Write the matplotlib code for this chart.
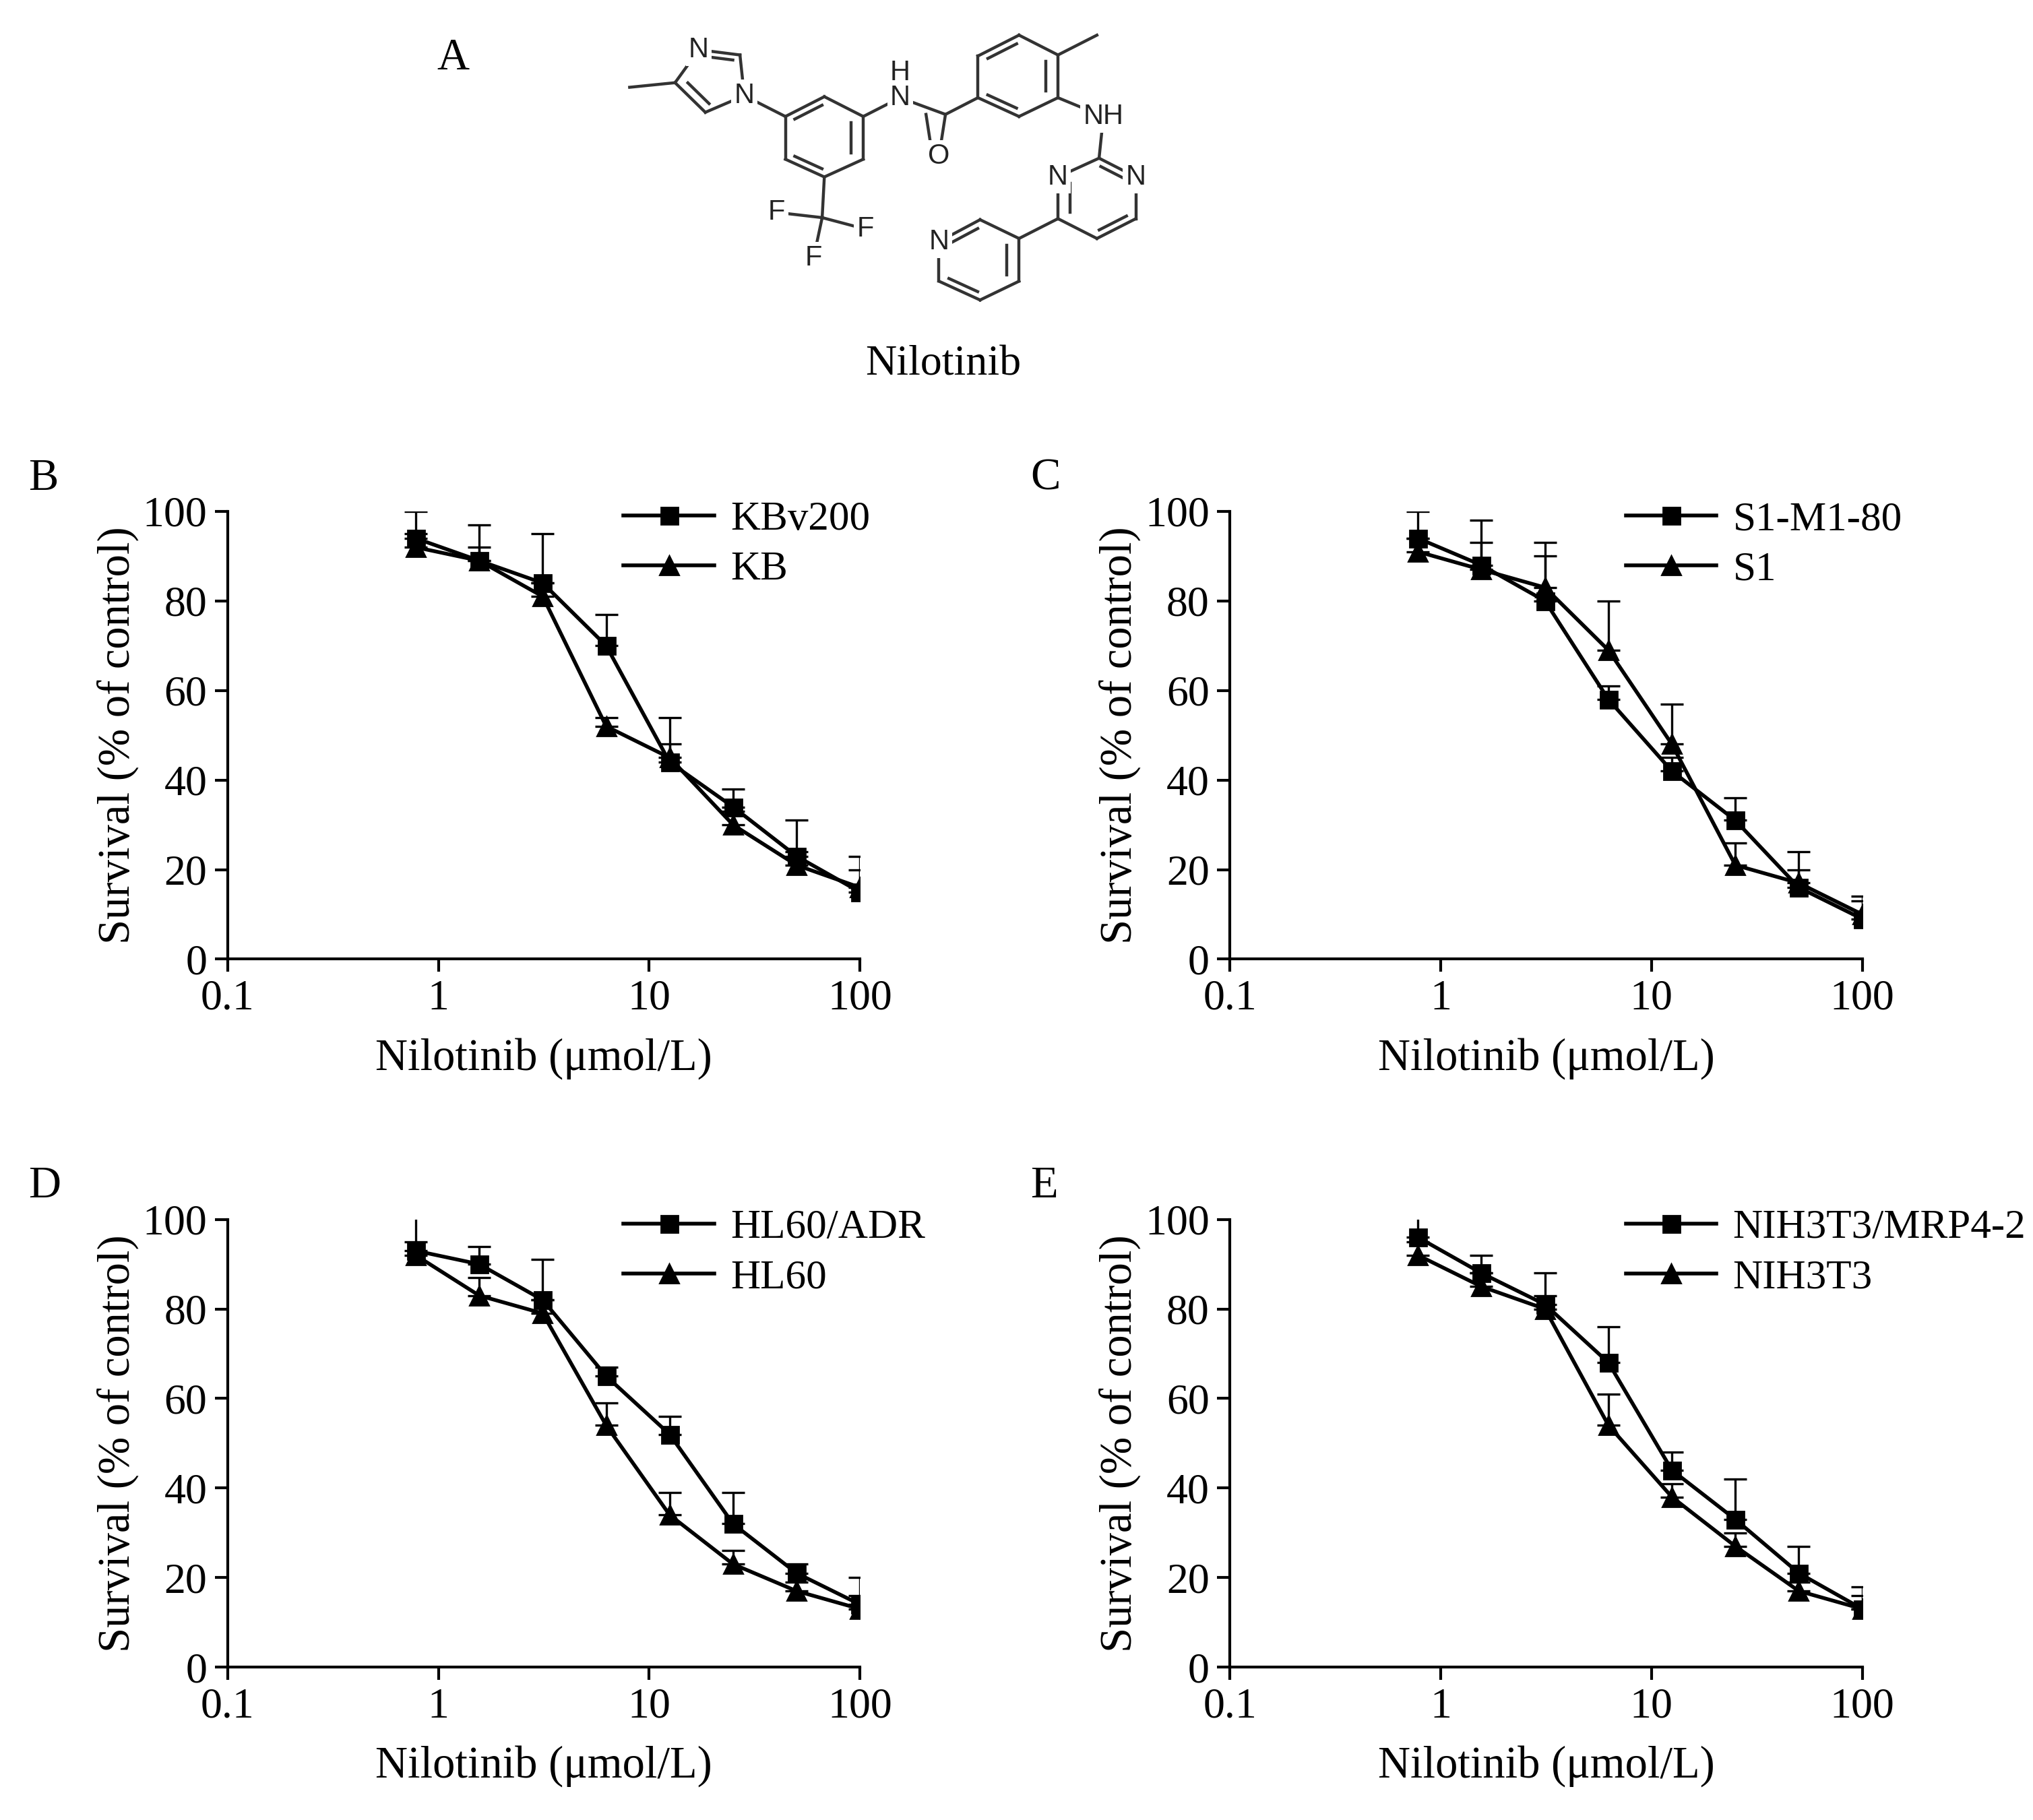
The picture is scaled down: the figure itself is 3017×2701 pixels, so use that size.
import numpy as np
import matplotlib
matplotlib.use("Agg")
import matplotlib.pyplot as plt
from matplotlib.lines import Line2D

plt.rcParams["font.family"] = ["Liberation Serif", "DejaVu Serif"]

# ---- data ----
conc = [0.78, 1.56, 3.125, 6.25, 12.5, 25, 50, 100]

panels = [
    # letter, res label, res values, res err, par label, par values, par err
    ("B", "KBv200", [94, 89, 84, 70, 44, 34, 23, 15], [6, 8, 11, 7, 10, 4, 8, 8],
          "KB", [92, 89, 81, 52, 45, 30, 21, 16], [3, 3, 3, 2, 3, 3, 3, 4]),
    ("C", "S1-M1-80", [94, 88, 80, 58, 42, 31, 16, 9], [6, 10, 13, 3, 3, 5, 8, 5],
          "S1", [91, 87, 83, 69, 48, 21, 17, 10], [3, 6, 7, 11, 9, 5, 3, 3]),
    ("D", "HL60/ADR", [93, 90, 82, 65, 52, 32, 21, 14], [8, 4, 9, 2, 4, 7, 2, 6],
          "HL60", [92, 83, 79, 54, 34, 23, 17, 13], [3, 4, 3, 5, 5, 3, 2, 3]),
    ("E", "NIH3T3/MRP4-2", [96, 88, 81, 68, 44, 33, 21, 13], [5, 4, 7, 8, 4, 9, 6, 5],
          "NIH3T3", [92, 85, 80, 54, 38, 27, 17, 13], [3, 3, 3, 7, 3, 3, 2, 3]),
]

x_ticks = [0.1, 1, 10, 100]
x_tick_labels = ["0.1", "1", "10", "100"]
y_ticks = [0, 20, 40, 60, 80, 100]

# axes positions (figure fraction)
positions = {
    "B": [0.112, 0.473, 0.311, 0.246],
    "C": [0.605, 0.473, 0.311, 0.246],
    "D": [0.112, 0.084, 0.311, 0.246],
    "E": [0.605, 0.084, 0.311, 0.246],
}

fig = plt.figure(figsize=(15.085, 13.505), dpi=200)

for letter, rlab, rv, re, plab, pv, pe in panels:
    ax = fig.add_axes(positions[letter])
    ax.set_xscale("log")
    ax.errorbar(conc, rv, yerr=[np.zeros(len(re)), re], color="black", marker="s",
                ms=9, lw=2, capsize=6, elinewidth=1.2, capthick=1.2)
    ax.errorbar(conc, pv, yerr=[np.zeros(len(pe)), pe], color="black", marker="^",
                ms=10, lw=2, capsize=6, elinewidth=1.2, capthick=1.2)
    ax.set_xlim(0.1, 100)
    ax.set_ylim(0, 100)
    ax.set_xticks(x_ticks)
    ax.set_xticklabels(x_tick_labels)
    ax.xaxis.set_minor_locator(matplotlib.ticker.NullLocator())
    ax.set_yticks(y_ticks)
    ax.tick_params(labelsize=23, width=1.5, length=7, direction="out", pad=4)
    for s in ("top", "right"):
        ax.spines[s].set_visible(False)
    for s in ("left", "bottom"):
        ax.spines[s].set_linewidth(1.5)
    ax.set_xlabel("Nilotinib (\u03bcmol/L)", fontsize=24, labelpad=10)
    ax.set_ylabel("Survival (% of control)", fontsize=24, labelpad=2)
    handles = [Line2D([], [], color="black", marker="s", ms=9, lw=2),
               Line2D([], [], color="black", marker="^", ms=10, lw=2)]
    ax.legend(handles, [rlab, plab], loc="upper left", bbox_to_anchor=(0.6, 1.06),
              frameon=False, fontsize=22, handlelength=2.2, handletextpad=0.4,
              borderaxespad=0, labelspacing=0.3)
    pos = positions[letter]
    fig.text(pos[0] - 0.098, pos[1] + pos[3] + 0.012, letter, fontsize=24)

fig.text(0.215, 0.962, "A", fontsize=24)
fig.text(0.464, 0.794, "Nilotinib", fontsize=23, ha="center")

# ---- structure of nilotinib ----
sx = fig.add_axes([0.298, 0.826, 0.332, 0.165])
sx.set_xlim(0, 1560)
sx.set_ylim(1440, 0)
sx.axis("off")

atoms = {
    "me1": (55, 340), "c4": (160, 318), "n3": (215, 160), "c2": (310, 185),
    "n1": (320, 380), "c5": (230, 460),
    "a1": (505, 385), "a2": (595, 480), "a3": (595, 685), "a4": (505, 770),
    "a5": (415, 685), "a6": (415, 480),
    "nh1": (680, 390), "co": (785, 470), "o": (770, 670),
    "b1": (860, 390), "b2": (860, 190), "b3": (955, 90), "b4": (1045, 185),
    "b5": (1045, 390), "b6": (955, 480), "me2": (1135, 90),
    "nh2": (1150, 480),
    "c1p": (1140, 680), "n2p": (1225, 770), "c3p": (1225, 970), "c4p": (1135, 1065),
    "c5p": (1045, 970), "n6p": (1045, 770),
    "p1": (955, 1065), "p2": (865, 975), "p3": (770, 1080), "p4": (770, 1270),
    "p5": (865, 1360), "p6": (955, 1270),
    "cf": (500, 965), "f1": (395, 940), "f2": (600, 1020), "f3": (480, 1160),
}
labels = {"n3": "N", "n1": "N", "nh1": "N", "o": "O", "nh2": "NH",
          "n2p": "N", "n6p": "N", "p3": "N", "f1": "F", "f2": "F", "f3": "F"}

bonds = [("me1", "c4"), ("c4", "n3"), ("n3", "c2"), ("c2", "n1"), ("n1", "c5"),
         ("c5", "c4"), ("n1", "a6"),
         ("a1", "a2"), ("a2", "a3"), ("a3", "a4"), ("a4", "a5"), ("a5", "a6"), ("a6", "a1"),
         ("a2", "nh1"), ("nh1", "co"), ("co", "o"), ("co", "b1"),
         ("b1", "b2"), ("b2", "b3"), ("b3", "b4"), ("b4", "b5"), ("b5", "b6"), ("b6", "b1"),
         ("b4", "me2"), ("b5", "nh2"), ("nh2", "c1p"),
         ("c1p", "n2p"), ("n2p", "c3p"), ("c3p", "c4p"), ("c4p", "c5p"), ("c5p", "n6p"),
         ("n6p", "c1p"), ("c5p", "p1"),
         ("p1", "p2"), ("p2", "p3"), ("p3", "p4"), ("p4", "p5"), ("p5", "p6"), ("p6", "p1"),
         ("a4", "cf"), ("cf", "f1"), ("cf", "f2"), ("cf", "f3")]

# inner double-bond lines: (atom1, atom2, ring centre)
doubles = [("n3", "c2", (250, 330)), ("c5", "c4", (250, 330)),
           ("a1", "a6", (505, 580)), ("a2", "a3", (505, 580)), ("a4", "a5", (505, 580)),
           ("b2", "b3", (955, 285)), ("b4", "b5", (955, 285)), ("b6", "b1", (955, 285)),
           ("c1p", "n2p", (1135, 870)), ("c3p", "c4p", (1135, 870)), ("c5p", "n6p", (1135, 870)),
           ("p2", "p3", (865, 1170)), ("p4", "p5", (865, 1170)), ("p6", "p1", (865, 1170))]

for a, b in bonds:
    (x1, y1), (x2, y2) = atoms[a], atoms[b]
    sx.plot([x1, x2], [y1, y2], color="#333333", lw=1.6, zorder=1)
for a, b, c in doubles:
    p = np.array(atoms[a], float)
    q = np.array(atoms[b], float)
    c = np.array(c, float)
    m = (p + q) / 2
    d = (c - m) / np.linalg.norm(c - m) * 28
    p2 = p + (q - p) * 0.15 + d
    q2 = q - (q - p) * 0.15 + d
    sx.plot([p2[0], q2[0]], [p2[1], q2[1]], color="#333333", lw=1.6, zorder=1)
sx.plot([740, 755], [470, 670], color="#333333", lw=1.6, zorder=1)
for k, t in labels.items():
    x, y = atoms[k]
    sx.text(x, y, t, ha="center", va="center", fontsize=15, color="#222222",
            family=["Liberation Sans", "DejaVu Sans"], zorder=3,
            bbox=dict(boxstyle="square,pad=0.1", fc="white", ec="none"))
sx.text(680, 270, "H", ha="center", va="center", fontsize=15, color="#222222",
        family=["Liberation Sans", "DejaVu Sans"], zorder=3)

fig.savefig("out.png", dpi=200)
